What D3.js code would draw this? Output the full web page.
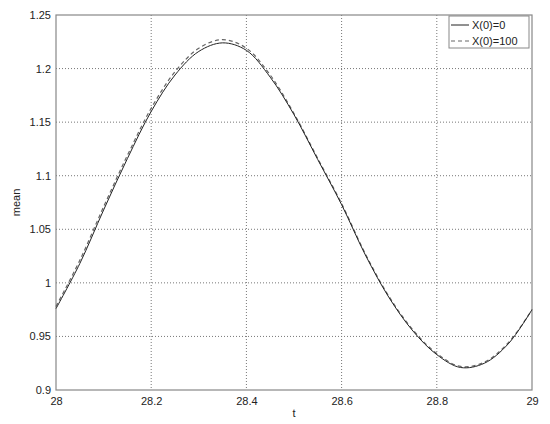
<!DOCTYPE html>
<html><head><meta charset="utf-8">
<script src="https://cdn.jsdelivr.net/npm/d3@7"></script>
<style>body{margin:0;background:#fff}svg{display:block}text{font-family:"Liberation Sans",Arial,sans-serif;}</style>
</head><body><svg id="c" width="550" height="424"></svg>
<script>
const tValues = [28.00,28.05,28.10,28.15,28.20,28.25,28.30,28.35,28.40,28.45,28.50,28.55,28.60,28.65,28.70,28.75,28.80,28.85,28.90,28.95,29.00];
const meanX0 = [0.976,1.018,1.068,1.116,1.160,1.194,1.216,1.224,1.217,1.192,1.157,1.115,1.073,1.026,0.986,0.955,0.933,0.921,0.925,0.943,0.975];
const meanX100 = [0.978,1.021,1.071,1.119,1.163,1.197,1.219,1.227,1.219,1.194,1.158,1.116,1.074,1.027,0.987,0.956,0.934,0.922,0.926,0.944,0.975];
const xTicks = [28,28.2,28.4,28.6,28.8,29];
const yTicks = [0.9,0.95,1,1.05,1.1,1.15,1.2,1.25];
const seriesNames = ["X(0)=0","X(0)=100"];

const svg = d3.select("#c");
const L=56,R=532,T=15,B=390;
const x = d3.scaleLinear().domain([28,29]).range([L,R]);
const y = d3.scaleLinear().domain([0.9,1.25]).range([B,T]);

// grid
const g = svg.append("g");
g.selectAll(".vg").data(xTicks.slice(1,-1)).join("line")
  .attr("x1",d=>x(d)).attr("x2",d=>x(d)).attr("y1",T).attr("y2",B)
  .attr("stroke","#777").attr("stroke-width",1).attr("stroke-dasharray","1,2");
g.selectAll(".hg").data(yTicks.slice(1,-1)).join("line")
  .attr("y1",d=>y(d)).attr("y2",d=>y(d)).attr("x1",L).attr("x2",R)
  .attr("stroke","#777").attr("stroke-width",1).attr("stroke-dasharray","1,2");

// axes
const xAxis = d3.axisBottom(x).tickValues(xTicks).tickSize(0).tickPadding(7).tickFormat(d=>String(+d.toFixed(1)));
const yAxis = d3.axisLeft(y).tickValues(yTicks).tickSize(0).tickPadding(5).tickFormat(d=>String(+d.toFixed(2)));
const xa = svg.append("g").attr("transform",`translate(0,${B})`).call(xAxis);
const ya = svg.append("g").attr("transform",`translate(${L},0)`).call(yAxis);
[xa,ya].forEach(a=>{a.select(".domain").remove();a.selectAll("text").attr("fill","#222").style("font-size","11px");});

// box
svg.append("rect").attr("x",L).attr("y",T).attr("width",R-L).attr("height",B-T)
  .attr("fill","none").attr("stroke","#888").attr("stroke-width",1.2);

// lines
const data0 = tValues.map((t,i)=>[t,meanX0[i]]);
const data1 = tValues.map((t,i)=>[t,meanX100[i]]);
const line = d3.line().x(d=>x(d[0])).y(d=>y(d[1])).curve(d3.curveCatmullRom.alpha(0.5));
svg.append("path").attr("d",line(data1)).attr("fill","none").attr("stroke","#666").attr("stroke-width",1.2).attr("stroke-dasharray","4,3");
svg.append("path").attr("d",line(data0)).attr("fill","none").attr("stroke","#222").attr("stroke-width",1);

// labels
svg.append("text").attr("x",(L+R)/2).attr("y",417).attr("text-anchor","middle").attr("fill","#222").style("font-size","11px").text("t");
svg.append("text").attr("transform",`translate(20,${(T+B)/2}) rotate(-90)`).attr("text-anchor","middle").attr("fill","#222").style("font-size","11px").text("mean");

// legend
const lg = svg.append("g");
lg.append("rect").attr("x",449).attr("y",16).attr("width",80).attr("height",32).attr("fill","#fff").attr("stroke","#888").attr("stroke-width",1);
const styles=[{s:"#222",d:null},{s:"#666",d:"4,3"}];
seriesNames.forEach((n,i)=>{
  const yy = 25+i*16;
  lg.append("line").attr("x1",451).attr("x2",469).attr("y1",yy).attr("y2",yy).attr("stroke",styles[i].s).attr("stroke-width",1).attr("stroke-dasharray",styles[i].d);
  lg.append("text").attr("x",472).attr("y",yy+4).attr("fill","#222").style("font-size","11px").text(n);
});
</script></body></html>
